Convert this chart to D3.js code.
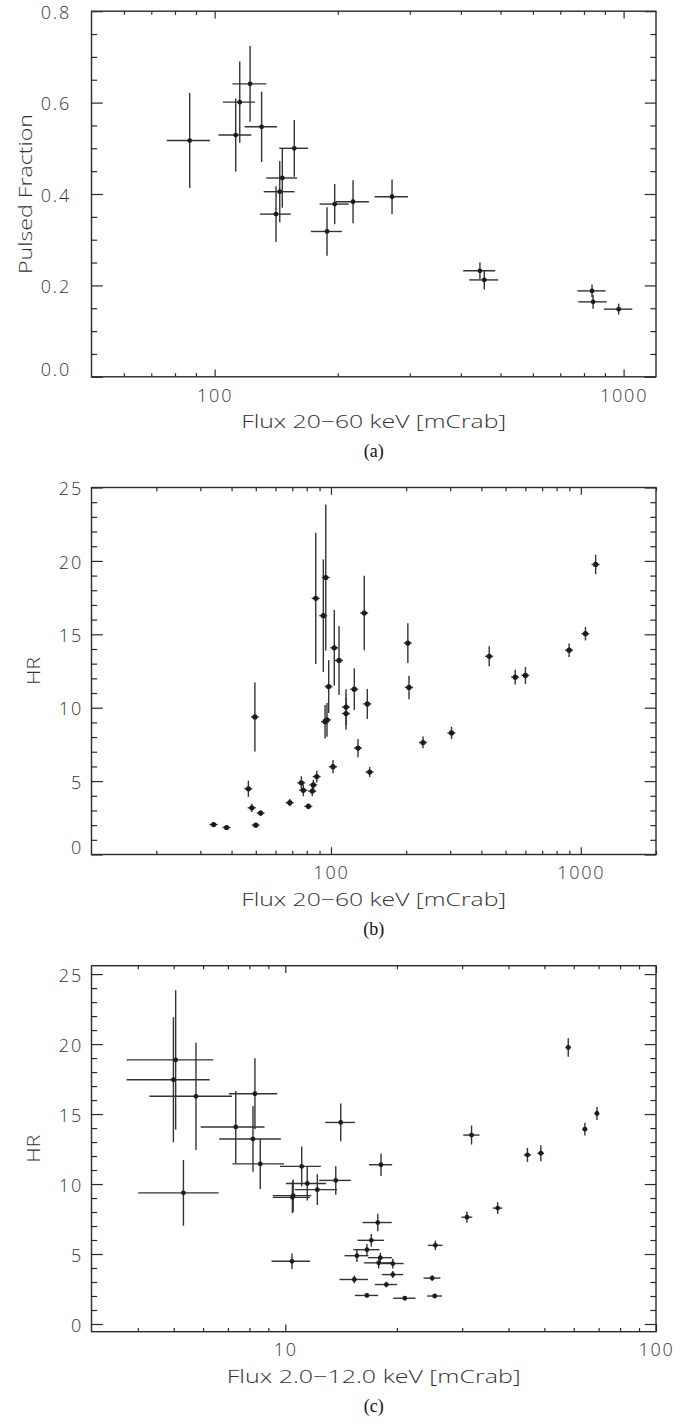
<!DOCTYPE html>
<html><head><meta charset="utf-8">
<script src="https://cdn.jsdelivr.net/npm/d3@7"></script>
<style>body{margin:0;background:#fff}svg{display:block}</style>
</head><body>
<svg id="chart" width="690" height="1425"></svg>
<script>
// ---------- Panel (a): pulsed fraction vs 20-60 keV flux ----------
const fluxA    = [86.9,112.6,115.2,122.1,130.3,156.6,146.4,144.3,141.3,188.3,196.6,218,271.5,445.3,456.4,837,842,972.7];
const fluxAErr = [10.5,10.4,10.4,11.6,11.9,12.7,12.6,12.5,12.2,16.3,16.0,20.4,25.4,40,37.2,66.5,67,77.6];
const pfA      = [0.517,0.529,0.601,0.641,0.547,0.500,0.435,0.405,0.356,0.318,0.378,0.383,0.394,0.232,0.212,0.188,0.164,0.148];
const pfAErr   = [0.104,0.080,0.089,0.083,0.077,0.062,0.065,0.067,0.061,0.053,0.044,0.047,0.038,0.018,0.021,0.014,0.015,0.012];

// ---------- Panels (b) and (c): hardness ratio (same observations) ----------
const hr    = [2.04,1.84,4.48,3.18,2.82,2.00,9.37,3.53,3.28,4.88,4.37,4.74,4.32,5.31,5.98,17.45,16.27,18.87,11.44,14.08,13.22,9.05,9.17,10.04,9.60,11.26,7.25,16.45,10.26,5.62,14.40,11.38,7.63,8.28,13.50,12.08,12.20,13.92,15.04,19.76];
const hrErr = [0.15,0.12,0.55,0.28,0.20,0.15,2.35,0.25,0.20,0.45,0.40,0.35,0.35,0.40,0.45,4.47,3.83,4.98,1.80,2.57,2.35,1.14,1.15,1.22,1.10,1.42,0.62,2.53,1.02,0.34,1.35,0.80,0.40,0.42,0.68,0.50,0.58,0.46,0.46,0.66];
// 20-60 keV flux (panel b)
const fluxB    = [33.9,38.2,46.7,48.2,52.3,50.0,49.6,68.4,81.2,76.1,77.5,85.0,84.2,87.7,101.9,86.9,93.2,95.3,97.9,103.1,107.7,94.7,96.4,114.9,114.9,124.0,128.3,135.9,139.8,142.9,203.1,205.3,233.6,303.8,430,546.4,600.3,898,1043.8,1146.6];
const fluxBErr = [1.3,1.4,1.7,1.8,1.9,1.8,1.8,2.5,3.0,2.8,2.9,3.1,3.1,3.2,3.8,3.2,3.4,3.5,3.6,3.8,4.0,3.5,3.6,4.2,4.2,4.6,4.7,5.0,5.2,5.3,7.5,7.6,8.6,11.2,16,20,22,33,38,42];
// 2.0-12.0 keV flux (panel c)
const fluxC    = [16.6,21.0,10.42,15.35,18.73,25.3,5.31,19.5,24.9,15.6,17.86,18.04,19.5,16.6,17.06,4.99,5.74,5.06,8.56,7.35,8.18,10.45,10.5,11.46,12.2,11.07,17.76,8.28,13.68,25.4,14.11,18.12,30.9,37.4,31.8,45.0,48.9,64.3,69.3,57.98];
const fluxCErr = [1.2,1.45,1.24,1.35,1.3,1.17,1.3,1.3,1.3,1.15,1.55,1.35,1.35,1.35,1.4,1.26,1.44,1.33,1.36,1.44,1.55,1.2,1.25,1.42,1.6,1.4,1.6,1.23,1.34,1.15,1.3,1.3,1.05,1.1,1.6,1.0,1.0,1.0,1.0,1.0];

// ---------- ticks ----------
const xMajorA = [100,1000], xMajorLabelsA = ["100","1000"];
const xMinorA = [60,70,80,90,200,300,400,500,600,700,800,900];
const xMajorB = [100,1000], xMajorLabelsB = ["100","1000"];
const xMinorB = [20,30,40,50,60,70,80,90,200,300,400,500,600,700,800,900,2000];
const xMajorC = [10,100], xMajorLabelsC = ["10","100"];
const xMinorC = [4,5,6,7,8,9,20,30,40,50,60,70,80,90];
const yMajorA = [0,0.2,0.4,0.6,0.8], yMajorLabelsA = ["0.0","0.2","0.4","0.6","0.8"];
const yMinorA = [0.05,0.1,0.15,0.25,0.3,0.35,0.45,0.5,0.55,0.65,0.7,0.75];
const yMajorHR = [0,5,10,15,20,25], yMajorLabelsHR = ["0","5","10","15","20","25"];
const yMinorHR = [1,2,3,4,6,7,8,9,11,12,13,14,16,17,18,19,21,22,23,24];

// ---------- layout ----------
const L = 91.5, R = 656;
const FONT = "'Open Sans', 'DejaVu Sans', sans-serif";
const FW = 300;
const INK = "#2a2a2a";
const TXT = "#333";
const FS = 18;
const svg = d3.select("#chart");

function panel(o){
  const x = d3.scaleLog().domain(o.xDomain).range([L, R]);
  const y = d3.scaleLinear().domain(o.yDomain).range([o.bottom, o.top]);
  const g = svg.append("g");
  const tx = 0.02*(o.bottom-o.top), ty = 0.02*(R-L);

  function styleAxis(sel){
    sel.select(".domain").remove();
    sel.attr("font-family", FONT).attr("font-size", FS).attr("font-weight", FW).attr("color", INK);
    sel.selectAll(".tick line").attr("stroke-width", 1.2);
    sel.selectAll(".tick text").attr("fill", TXT).style("letter-spacing", "1.8px");
  }
  // bottom
  g.append("g").attr("transform", `translate(0,${o.bottom})`)
    .call(d3.axisBottom(x).tickValues(o.xMajor).tickSize(-tx).tickSizeOuter(0).tickPadding(12)
      .tickFormat((d,i)=>o.xLabels[i])).call(styleAxis);
  g.append("g").attr("transform", `translate(0,${o.bottom})`)
    .call(d3.axisBottom(x).tickValues(o.xMinor).tickSize(-tx/2).tickSizeOuter(0).tickFormat("")).call(styleAxis);
  // top
  g.append("g").attr("transform", `translate(0,${o.top})`)
    .call(d3.axisTop(x).tickValues(o.xMajor).tickSize(-tx).tickSizeOuter(0).tickFormat("")).call(styleAxis);
  g.append("g").attr("transform", `translate(0,${o.top})`)
    .call(d3.axisTop(x).tickValues(o.xMinor).tickSize(-tx/2).tickSizeOuter(0).tickFormat("")).call(styleAxis);
  // left
  g.append("g").attr("transform", `translate(${L},0)`)
    .call(d3.axisLeft(y).tickValues(o.yMajor).tickSize(-ty).tickSizeOuter(0).tickPadding(o.yPad)
      .tickFormat((d,i)=>o.yLabels[i])).call(styleAxis)
    .call(s => s.selectAll(".tick text").attr("dy", d => Math.abs(y(d)-o.bottom) < 1 ? "-0.08em" : "0.40em"));
  g.append("g").attr("transform", `translate(${L},0)`)
    .call(d3.axisLeft(y).tickValues(o.yMinor).tickSize(-ty/2).tickSizeOuter(0).tickFormat("")).call(styleAxis);
  // right
  g.append("g").attr("transform", `translate(${R},0)`)
    .call(d3.axisRight(y).tickValues(o.yMajor).tickSize(-ty).tickSizeOuter(0).tickFormat("")).call(styleAxis);
  g.append("g").attr("transform", `translate(${R},0)`)
    .call(d3.axisRight(y).tickValues(o.yMinor).tickSize(-ty/2).tickSizeOuter(0).tickFormat("")).call(styleAxis);

  // box
  g.append("rect").attr("x", L).attr("y", o.top).attr("width", R-L).attr("height", o.bottom-o.top)
    .attr("fill", "none").attr("stroke", INK).attr("stroke-width", 1.4);

  // data
  const idx = d3.range(o.xs.length);
  const eb = g.append("g").attr("stroke", "#333").attr("stroke-width", 1.4);
  eb.selectAll("line.h").data(idx).join("line").attr("class","h")
    .attr("x1", i => x(o.xs[i]-o.xe[i])).attr("x2", i => x(o.xs[i]+o.xe[i]))
    .attr("y1", i => y(o.ys[i])).attr("y2", i => y(o.ys[i]));
  eb.selectAll("line.v").data(idx).join("line").attr("class","v")
    .attr("x1", i => x(o.xs[i])).attr("x2", i => x(o.xs[i]))
    .attr("y1", i => y(o.ys[i]-o.ye[i])).attr("y2", i => y(o.ys[i]+o.ye[i]));
  g.append("g").selectAll("circle").data(idx).join("circle")
    .attr("cx", i => x(o.xs[i])).attr("cy", i => y(o.ys[i])).attr("r", o.r).attr("fill", "#1c1c1c");

  // titles
  const cx = (L+R)/2;
  g.append("text").attr("x", cx).attr("y", o.bottom+51).attr("text-anchor","middle")
    .attr("font-family", FONT).attr("font-weight", FW).attr("font-size", FS).attr("fill", TXT)
    .attr("textLength", o.xTitleLen).attr("lengthAdjust","spacingAndGlyphs").text(o.xTitle);
  g.append("text").attr("transform", `translate(${o.yTitleX},${(o.top+o.bottom)/2}) rotate(-90)`)
    .attr("text-anchor","middle").attr("font-family", FONT).attr("font-weight", FW).attr("font-size", 19).attr("fill", TXT)
    .attr("textLength", o.yTitleLen).attr("lengthAdjust","spacingAndGlyphs").text(o.yTitle);
  g.append("text").attr("x", cx).attr("y", o.bottom+80).attr("text-anchor","middle")
    .attr("font-family", "'Liberation Serif','Times New Roman',serif").attr("font-size", 18).attr("fill", "#111")
    .text(o.caption);
}

panel({top:11.2, bottom:376.8, xDomain:[50,1200], yDomain:[0,0.8],
  xMajor:xMajorA, xLabels:xMajorLabelsA, xMinor:xMinorA,
  yMajor:yMajorA, yLabels:yMajorLabelsA, yMinor:yMinorA, yPad:20.5,
  xs:fluxA, xe:fluxAErr, ys:pfA, ye:pfAErr, r:2.4,
  xTitle:"Flux 20\u221260 keV [mCrab]", xTitleLen:265,
  yTitle:"Pulsed Fraction", yTitleX:32, yTitleLen:160, caption:"(a)"});

panel({top:487.5, bottom:854.5, xDomain:[11,2000], yDomain:[0,25],
  xMajor:xMajorB, xLabels:xMajorLabelsB, xMinor:xMinorB,
  yMajor:yMajorHR, yLabels:yMajorLabelsHR, yMinor:yMinorHR, yPad:8.5,
  xs:fluxB, xe:fluxBErr, ys:hr, ye:hrErr, r:2.6,
  xTitle:"Flux 20\u221260 keV [mCrab]", xTitleLen:265,
  yTitle:"HR", yTitleX:39.5, yTitleLen:28, caption:"(b)"});

panel({top:965.7, bottom:1331.7, xDomain:[3,100], yDomain:[-0.55,25.6],
  xMajor:xMajorC, xLabels:xMajorLabelsC, xMinor:xMinorC,
  yMajor:yMajorHR, yLabels:yMajorLabelsHR, yMinor:yMinorHR, yPad:8.5,
  xs:fluxC, xe:fluxCErr, ys:hr, ye:hrErr, r:2.4,
  xTitle:"Flux 2.0\u221212.0 keV [mCrab]", xTitleLen:294,
  yTitle:"HR", yTitleX:39.5, yTitleLen:28, caption:"(c)"});
</script>
</body></html>
